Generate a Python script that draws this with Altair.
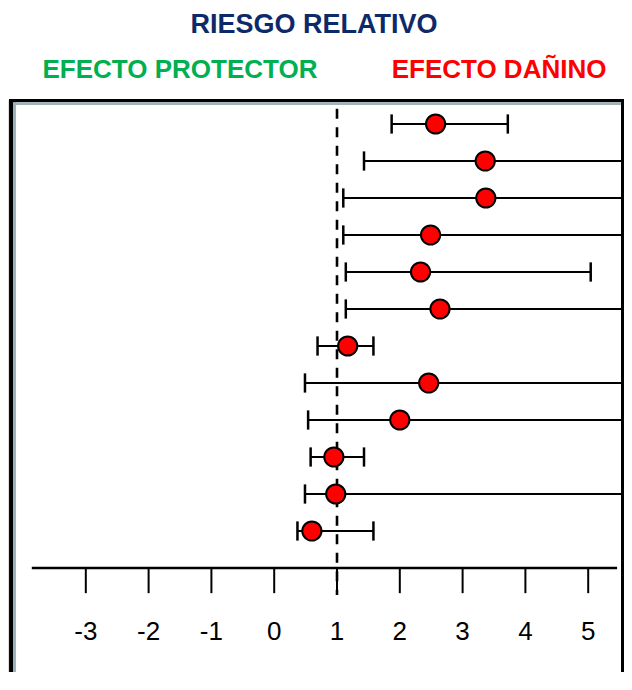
import altair as alt
import pandas as pd

# ---- data ----
rows = list(range(1, 13))
rr = [2.57, 3.36, 3.37, 2.49, 2.33, 2.64, 1.17, 2.46, 2.00, 0.95, 0.98, 0.60]
ci_low = [1.87, 1.43, 1.10, 1.10, 1.14, 1.14, 0.69, 0.49, 0.54, 0.58, 0.49, 0.37]
ci_high = [3.72, 7.0, 7.0, 7.0, 5.04, 7.0, 1.58, 5.66, 7.0, 1.43, 5.55, 1.58]
tick_values = [-3, -2, -1, 0, 1, 2, 3, 4, 5]
tick_labels = ["-3", "-2", "-1", "0", "1", "2", "3", "4", "5"]
null_value = 1
axis_row = 13
axis_extent = [-3.86, 5.46]
title_text = "RIESGO RELATIVO"
side_labels = ["EFECTO PROTECTOR", "EFECTO DAÑINO"]
side_label_x = [-1.50, 3.58]
side_label_colors = ["#00b050", "#ff0000"]

df = pd.DataFrame({"row": rows, "rr": rr, "lo": ci_low, "hi": ci_high})
FONT = "Liberation Sans"
W, H = 616, 572

xs = alt.Scale(domain=[-4.239, 5.570], nice=False, zero=False)
ys = alt.Scale(domain=[0.3514, 15.811], reverse=True, nice=False, zero=False)
X = lambda f: alt.X(f, scale=xs, axis=None)
Y = lambda f: alt.Y(f, scale=ys, axis=None)

base = alt.Chart(df)

lines = base.mark_rule(color="black", strokeWidth=2, clip=True).encode(
    x=X("lo:Q"), x2="hi:Q", y=Y("row:Q")
)

caps_lo = base.transform_calculate(
    ya="datum.row - 0.26", yb="datum.row + 0.26"
).mark_rule(color="black", strokeWidth=2.5).encode(
    x=X("lo:Q"), y=Y("ya:Q"), y2="yb:Q"
)

caps_hi = base.transform_filter("datum.hi < 5.3").transform_calculate(
    ya="datum.row - 0.26", yb="datum.row + 0.26"
).mark_rule(color="black", strokeWidth=2.5).encode(
    x=X("hi:Q"), y=Y("ya:Q"), y2="yb:Q"
)

points = base.mark_circle(
    color="#ff0000", stroke="black", strokeWidth=2, size=370, opacity=1
).encode(x=X("rr:Q"), y=Y("row:Q"))

null_df = pd.DataFrame({"x": [null_value], "y1": [0.59], "y2": [13.73]})
null_line = alt.Chart(null_df).mark_rule(
    color="black", strokeWidth=2.6, strokeDash=[10, 8.5]
).encode(x=X("x:Q"), y=Y("y1:Q"), y2="y2:Q")

# custom axis drawn through the x scale
axis_df = pd.DataFrame({"x1": [axis_extent[0]], "x2": [axis_extent[1]], "y": [axis_row]})
axis_line = alt.Chart(axis_df).mark_rule(color="black", strokeWidth=2.5).encode(
    x=X("x1:Q"), x2="x2:Q", y=Y("y:Q")
)
ticks_df = pd.DataFrame({"v": tick_values, "lab": tick_labels})
axis_ticks = alt.Chart(ticks_df).transform_calculate(
    ya=f"{axis_row}", yb=f"{axis_row} + 0.68"
).mark_rule(color="black", strokeWidth=2).encode(
    x=X("v:Q"), y=Y("ya:Q"), y2="yb:Q"
)
axis_labels = alt.Chart(ticks_df).transform_calculate(
    ya=f"{axis_row} + 1.95"
).mark_text(
    font=FONT, fontSize=26, color="black", align="center", baseline="alphabetic"
).encode(x=X("v:Q"), y=Y("ya:Q"), text="lab:N")

lab_df = pd.DataFrame(
    {"text": side_labels, "x": side_label_x, "c": side_label_colors, "y": [-0.24] * 2}
)
side_text = alt.Chart(lab_df).mark_text(
    font=FONT, fontSize=26, fontWeight="bold", align="center", baseline="alphabetic"
).encode(
    x=X("x:Q"), y=Y("y:Q"), text="text:N", color=alt.Color("c:N", scale=None)
)

title_df = pd.DataFrame({"text": [title_text], "x": [0.634], "y": [-1.46]})
title_mark = alt.Chart(title_df).mark_text(
    font=FONT, fontSize=27, fontWeight="bold", color="#0c2a6a",
    align="center", baseline="alphabetic"
).encode(x=X("x:Q"), y=Y("y:Q"), text="text:N")

# frame decoration
frame_left = alt.Chart(null_df).mark_rule(color="black", strokeWidth=4.3).encode(
    x=alt.value(3.2), y=alt.value(-1), y2=alt.value(H + 10)
)
frame_left_in = alt.Chart(null_df).mark_rule(color="#9db3bb", strokeWidth=2.7).encode(
    x=alt.value(6.7), y=alt.value(2.3), y2=alt.value(H + 10)
)
frame_top = alt.Chart(null_df).mark_rule(color="black", strokeWidth=3.3).encode(
    x=alt.value(1), x2=alt.value(W + 4), y=alt.value(0.7)
)
frame_top_in = alt.Chart(null_df).mark_rule(color="#9db3bb", strokeWidth=2.5).encode(
    x=alt.value(5.4), x2=alt.value(W - 2), y=alt.value(3.7)
)
frame_right = alt.Chart(null_df).mark_rule(color="black", strokeWidth=3).encode(
    x=alt.value(W - 1.5), y=alt.value(-1), y2=alt.value(H + 10)
)

chart = alt.layer(
    frame_left, frame_left_in, frame_top, frame_top_in, frame_right,
    axis_line, axis_ticks, axis_labels, null_line,
    lines, caps_lo, caps_hi, points, side_text, title_mark,
).properties(
    width=W,
    height=H,
    padding={"left": 0, "top": 92, "right": 0, "bottom": 0},
    autosize=alt.AutoSizeParams(type="none"),
).configure_view(stroke=None).configure(background="white")

chart.save("out.html", embed_options={"renderer": "svg", "actions": False})
